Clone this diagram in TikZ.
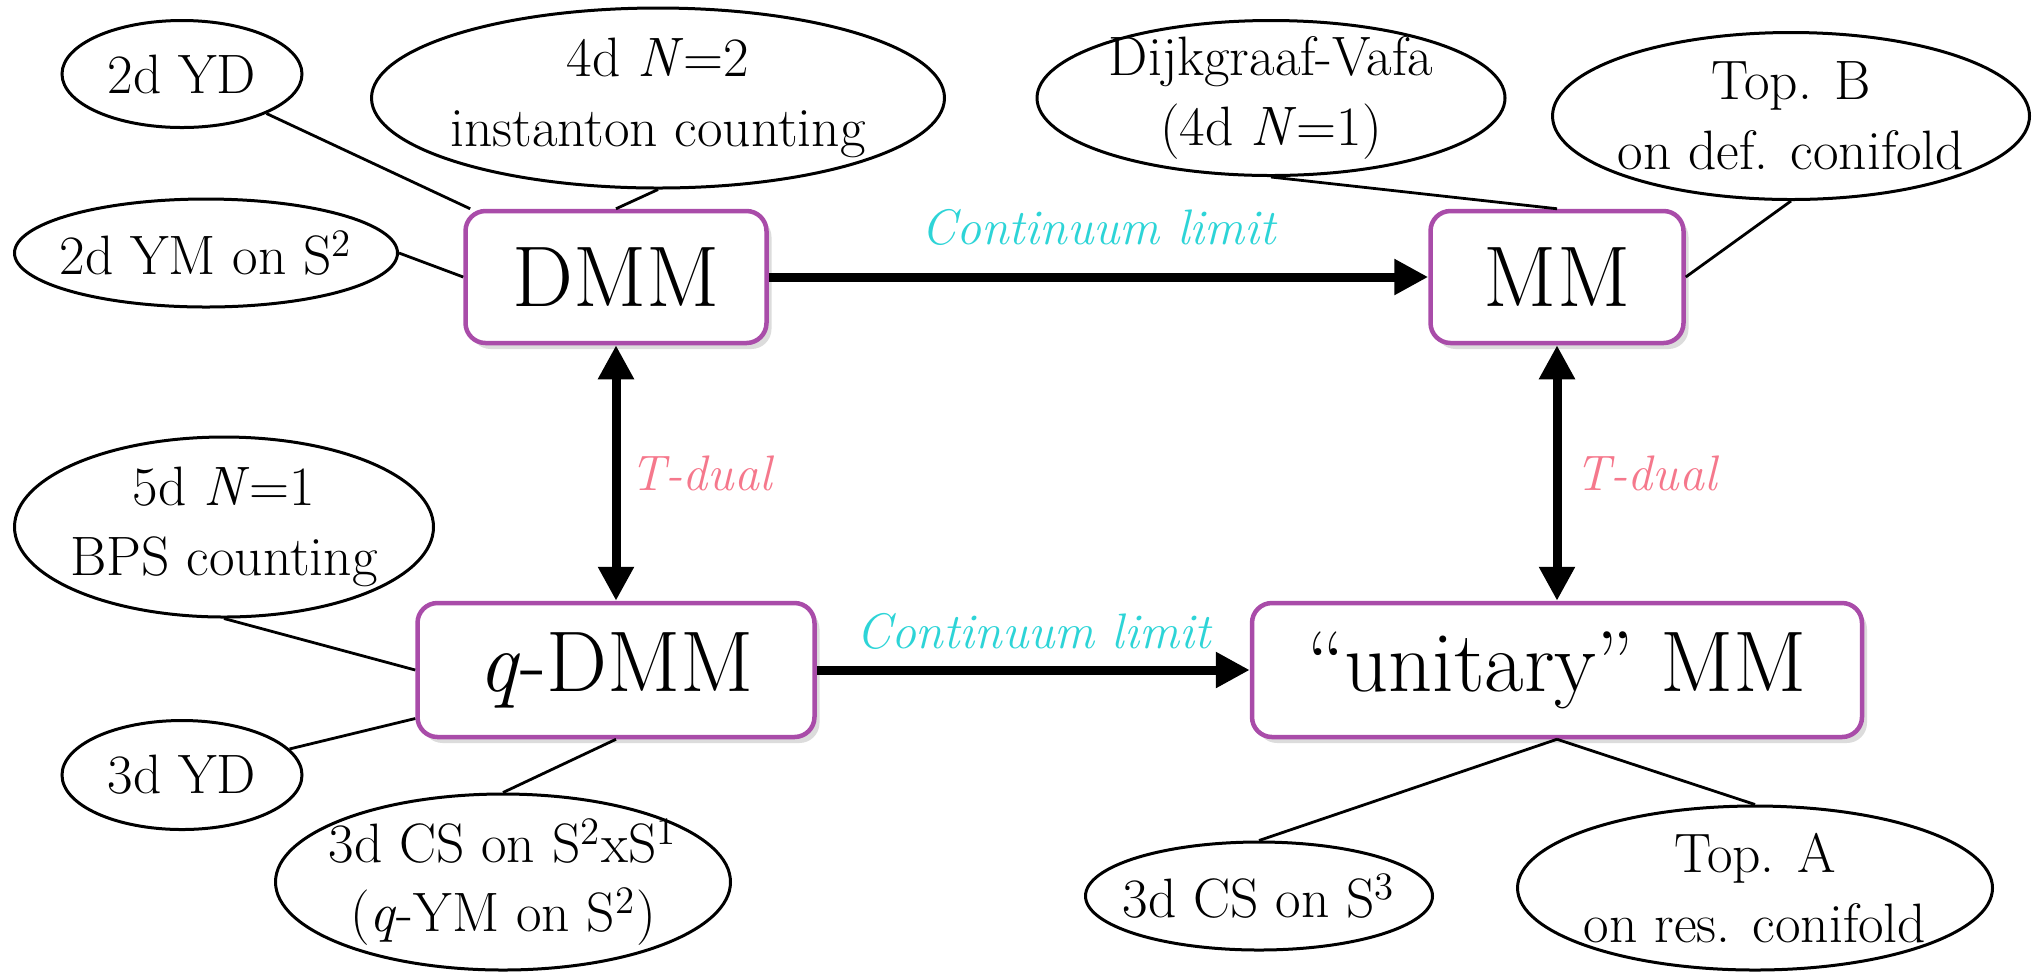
\documentclass[tikz,border=0pt]{standalone}
\usepackage{tikz}
\usetikzlibrary{arrows.meta,shapes.geometric,shadows}
\definecolor{boxpurple}{RGB}{169,76,169}
\definecolor{limcyan}{RGB}{45,212,215}
\definecolor{dualpink}{RGB}{245,120,140}
\tikzset{
  >={Triangle[length=3.4mm,width=3.4mm]},
  mmbox/.style={draw=boxpurple,line width=0.45mm,rounded corners=2mm,fill=white,
    inner sep=1pt,font=\fontsize{24.5pt}{29pt}\selectfont,
    drop shadow={shadow xshift=0.5mm,shadow yshift=-0.6mm,opacity=0.3,fill=black!45}},
  bub/.style={ellipse,draw,line width=0.3mm,inner sep=0pt},
  bubtxt/.style={font=\fontsize{15.8pt}{19.8pt}\selectfont,align=center,inner sep=0pt},
  tie/.style={line width=0.28mm},
  flow/.style={->,line width=0.9mm},
  dflow/.style={<->,line width=0.9mm},
  limlbl/.style={font=\fontsize{14.2pt}{17pt}\selectfont\itshape,text=limcyan,inner sep=0pt},
  duallbl/.style={font=\fontsize{14.2pt}{17pt}\selectfont\itshape,text=dualpink,inner sep=0pt},
}
\begin{document}
\begin{tikzpicture}[x=0.1mm,y=-0.1mm]
  \useasboundingbox (0,0) rectangle (2039,971);

  % the four models
  \node[mmbox,minimum width=30.1mm,minimum height=13.2mm] (dmm) at (616,277) {DMM};
  \node[mmbox,minimum width=25.3mm,minimum height=13.2mm] (mm) at (1557,277) {MM};
  \node[mmbox,minimum width=39.7mm,minimum height=13.4mm] (qdmm) at (616,670) {\textit{q}-DMM};
  \node[mmbox,minimum width=61mm,minimum height=13.4mm] (umm) at (1557,670) {``unitary'' MM};

  \draw[flow] (dmm) -- node[limlbl,above=2.7mm] {Continuum limit} (mm);
  \draw[flow] (qdmm) -- node[limlbl,above=1.6mm] {Continuum limit} (umm);
  \draw[dflow] (dmm) -- node[duallbl,right=1.0mm] {T-dual} (qdmm);
  \draw[dflow] (mm) -- node[duallbl,right=1.4mm] {T-dual} (umm);

  % bubbles
  \node[bub,minimum width=24mm,minimum height=10.7mm] (yd2) at (182,74) {};
  \node[bubtxt] (yd2t) at (yd2) {2d YD};
  \node[bub,minimum width=57.3mm,minimum height=18mm] (n4d) at (658,98) {};
  \node[bubtxt] (n4dt) at (n4d) {4d \textit{N}=2\\instanton counting};
  \node[bub,minimum width=38.3mm,minimum height=10.8mm] (ym2) at (206,253) {};
  \node[bubtxt] (ym2t) at (ym2) {2d YM on S\textsuperscript{2}};
  \node[bub,minimum width=46.8mm,minimum height=15.5mm] (dv) at (1271,98) {};
  \node[bubtxt] (dvt) at (dv) {Dijkgraaf-Vafa\\(4d \textit{N}=1)};
  \node[bub,minimum width=47.7mm,minimum height=16.7mm] (topb) at (1791,116) {};
  \node[bubtxt] (topbt) at (topb) {Top. B\\on def. conifold};
  \node[bub,minimum width=41.9mm,minimum height=18mm] (n5d) at (224,527) {};
  \node[bubtxt] (n5dt) at (n5d) {5d \textit{N}=1\\BPS counting};
  \node[bub,minimum width=24mm,minimum height=10.9mm] (yd3) at (182,775) {};
  \node[bubtxt] (yd3t) at (yd3) {3d YD};
  \node[bub,minimum width=45.5mm,minimum height=17.6mm] (cs2) at (503,882) {};
  \node[bubtxt] (cs2t) at (cs2) {3d CS on S\textsuperscript{2}xS\textsuperscript{1}\\(\textit{q}-YM on S\textsuperscript{2})};
  \node[bub,minimum width=34.7mm,minimum height=10.8mm] (cs3) at (1259,896) {};
  \node[bubtxt] (cs3t) at (cs3) {3d CS on S\textsuperscript{3}};
  \node[bub,minimum width=47.5mm,minimum height=16.4mm] (topa) at (1755,888) {};
  \node[bubtxt] (topat) at (topa) {Top. A\\on res. conifold};

  \draw[tie] (yd2) -- (dmm);
  \draw[tie] (n4d.south) -- (dmm.north);
  \draw[tie] (ym2.east) -- (dmm.west);
  \draw[tie] (dv.south) -- (mm.north);
  \draw[tie] (topb.south) -- (mm.east);
  \draw[tie] (n5d.south) -- (qdmm.west);
  \draw[tie] (yd3) -- (qdmm);
  \draw[tie] (cs2.north) -- (qdmm.south);
  \draw[tie] (cs3.north) -- (umm.south);
  \draw[tie] (topa.north) -- (umm.south);
\end{tikzpicture}
\end{document}
